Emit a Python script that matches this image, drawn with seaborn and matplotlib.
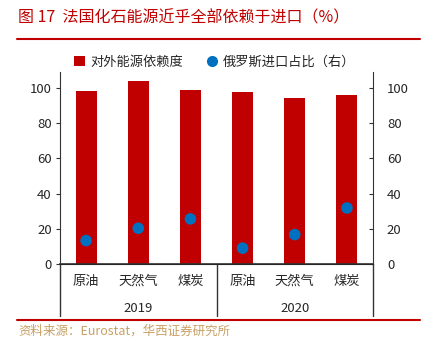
import matplotlib
matplotlib.use("Agg")
import matplotlib.pyplot as plt
import seaborn as sns
import pandas as pd
from matplotlib.lines import Line2D
from matplotlib.patches import Patch

sns.set_style("white")
plt.rcParams['font.family'] = ['Noto Sans CJK SC', 'DejaVu Sans']

years = ["2019", "2019", "2019", "2020", "2020", "2020"]
fuels = ["原油", "天然气", "煤炭", "原油", "天然气", "煤炭"]
dependence = [98.0, 104.0, 99.0, 97.7, 94.3, 96.2]
russia_share = [13.3, 20.3, 25.6, 9.0, 16.7, 31.8]
left_ticks = [0, 20, 40, 60, 80, 100]
right_ticks = [0, 20, 40, 60, 80, 100]

RED = "#C00000"
BLUE = "#0070C0"

df = pd.DataFrame({
    "pos": [f"{y}-{f}" for y, f in zip(years, fuels)],
    "fuel": fuels,
    "year": years,
    "dep": dependence,
    "rus": russia_share,
})
df["x"] = range(len(df))

fig = plt.figure(figsize=(4.25, 3.49), dpi=100)
ax = fig.add_axes([60/425, 1-264/349, (373-60)/425, (264-72)/349])

sns.barplot(data=df, x="pos", y="dep", color=RED, width=0.4, ax=ax,
            saturation=1, edgecolor="none")
ax2 = ax.twinx()
sns.scatterplot(data=df, x="x", y="rus", color=BLUE, s=70, ax=ax2,
                edgecolor="none", zorder=5)

ax.set_xlim(-0.5, 5.5)
ax.set_ylim(0, 109)
ax2.set_ylim(0, 109)
ax.set_yticks(left_ticks)
ax2.set_yticks(right_ticks)
ax.set_xlabel("")
ax.set_ylabel("")
ax2.set_xlabel("")
ax2.set_ylabel("")
ax.set_xticks(range(6))
ax.set_xticklabels([])
ax.tick_params(axis="x", length=0)
ax.tick_params(axis="y", direction="out", length=3, labelsize=9.5, pad=3, color="#333333")
ax2.tick_params(axis="y", direction="in", length=3, labelsize=9.5, pad=10, color="#333333")

for a in (ax, ax2):
    a.spines["top"].set_visible(False)
    a.spines["left"].set_visible(False)
    a.spines["right"].set_visible(False)
ax.spines["left"].set_visible(True)
ax2.spines["right"].set_visible(True)
ax.spines["left"].set_color("#333333")
ax2.spines["right"].set_color("#333333")
ax.spines["bottom"].set_color("#333333")
ax.spines["bottom"].set_linewidth(1.2)

# category labels
for i, f in enumerate(fuels):
    ax.text(i, -10, f, ha="center", va="center", fontsize=9.5,
            transform=ax.transData, clip_on=False)
for j, yr in enumerate(["2019", "2020"]):
    ax.text(1 + 3*j, -25, yr, ha="center", va="center", fontsize=9.5,
            transform=ax.transData, clip_on=False)
for xv in [-0.5, 2.5, 5.5]:
    ax.add_line(Line2D([xv, xv], [0, -29.5], color="#333333", lw=1.0,
                       clip_on=False))

# legend
handles = [Patch(facecolor=RED, edgecolor="none", label="对外能源依赖度"),
           Line2D([], [], marker="o", color="none", markerfacecolor=BLUE,
                  markeredgecolor="none", markersize=8, label="俄罗斯进口占比（右）")]
fig.legend(handles=handles, loc="center", bbox_to_anchor=(0.505, 1-62/349),
           ncol=2, frameon=False, fontsize=9.5, handlelength=0.8,
           handleheight=0.8, handletextpad=0.4, columnspacing=1.8)

# title & footer
fig.text(18/425, 1-18/349, "图 17  法国化石能源近乎全部依赖于进口（%）", color=RED,
         fontsize=11.5, ha="left", va="center")
fig.add_artist(Line2D([17/425, 420/425], [1-39/349, 1-39/349], color=RED, lw=1.5,
                      transform=fig.transFigure))
fig.add_artist(Line2D([17/425, 420/425], [1-320/349, 1-320/349], color=RED, lw=1.5,
                      transform=fig.transFigure))
fig.text(18/425, 1-331/349, "资料来源：Eurostat，华西证券研究所", color="#C8A064",
         fontsize=9, ha="left", va="center")

fig.savefig("out.png", dpi=100)
